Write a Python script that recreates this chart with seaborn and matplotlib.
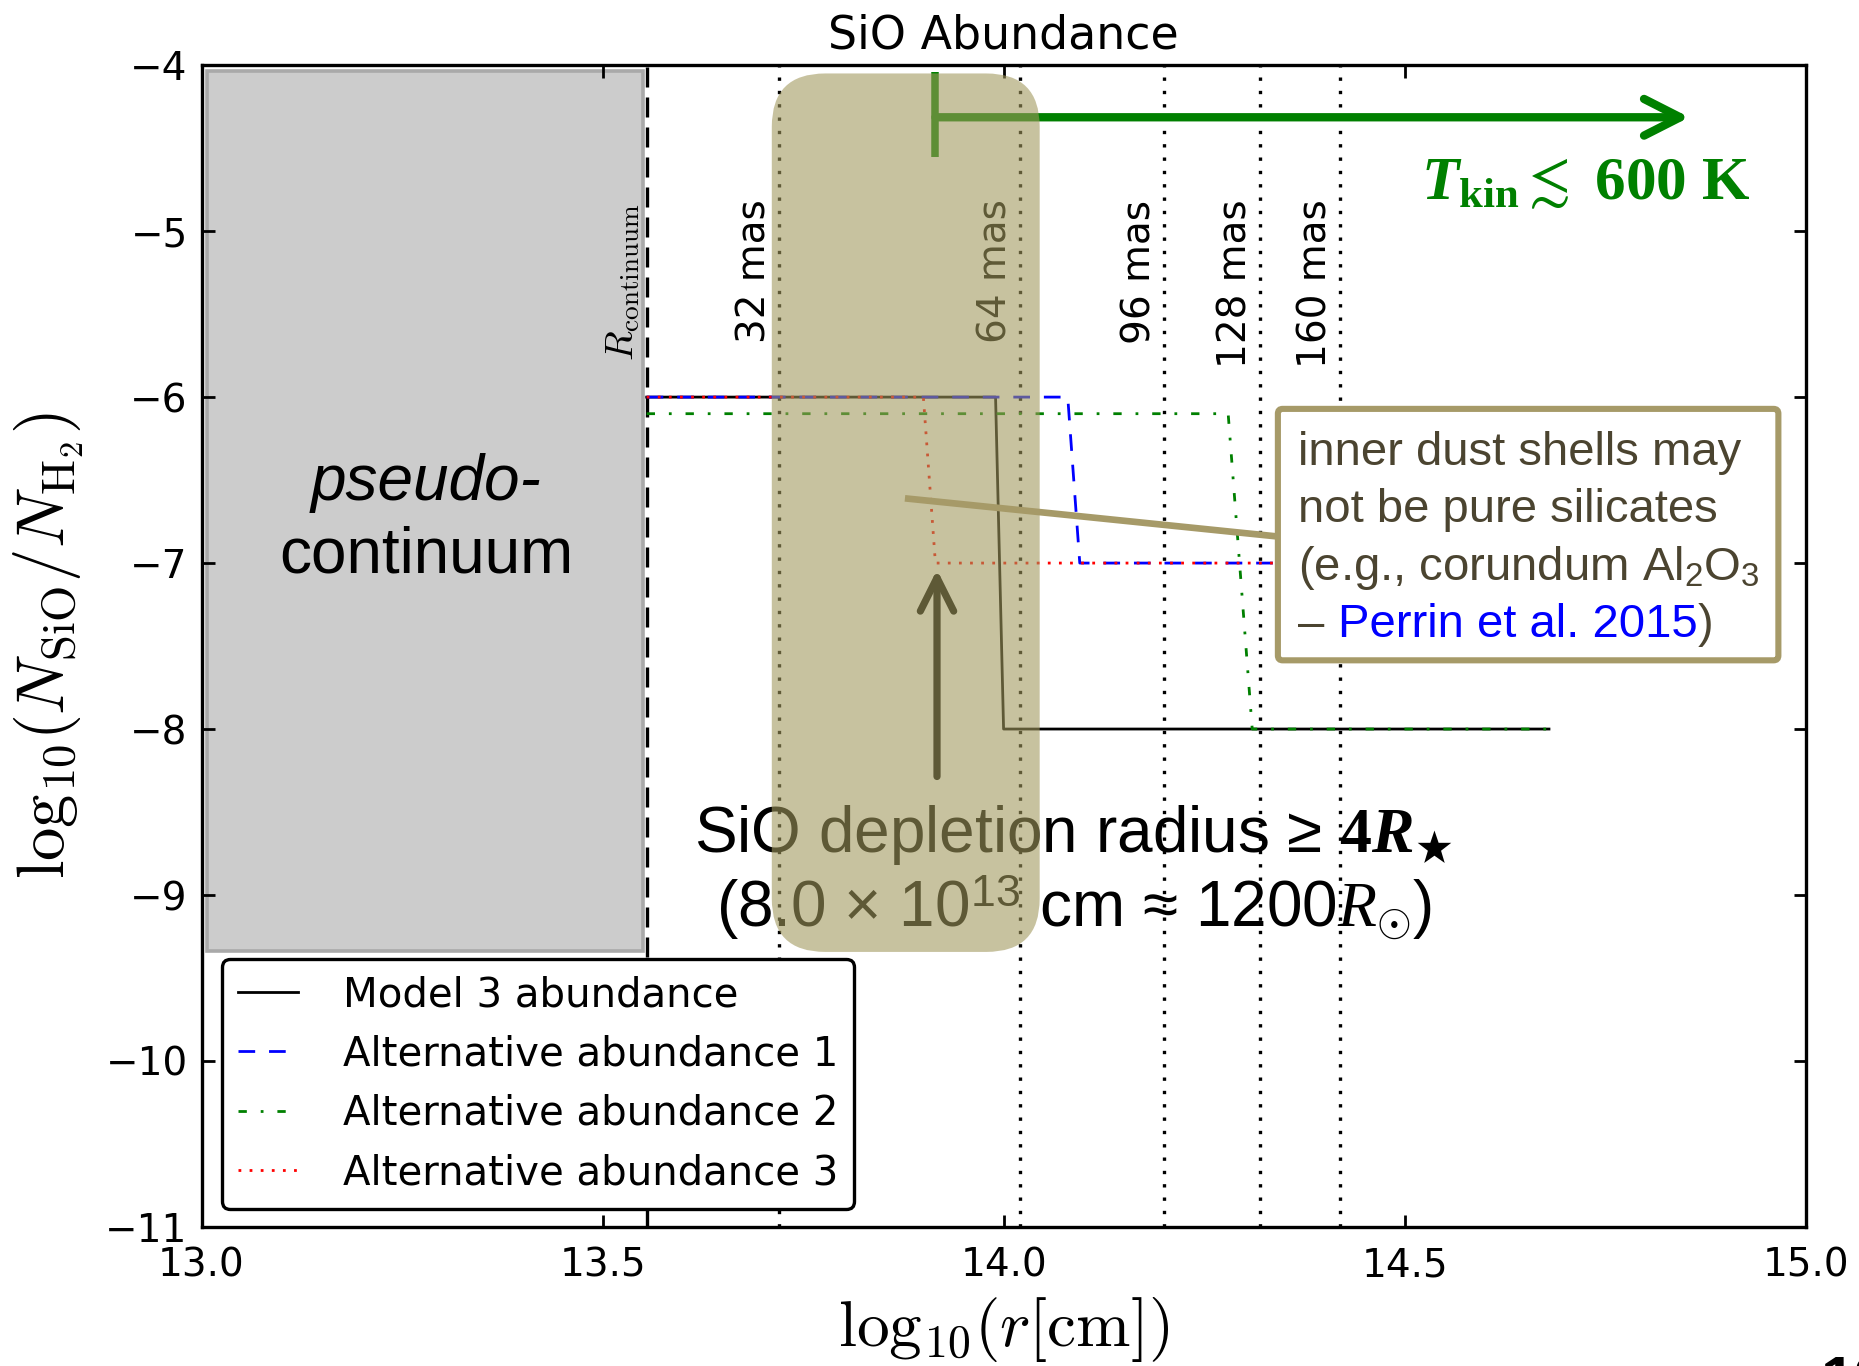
import matplotlib
matplotlib.use("Agg")
import matplotlib.pyplot as plt
from matplotlib.patches import FancyBboxPatch, Rectangle
import seaborn as sns

# ---- abundance profiles: log10(r [cm]) vs log10(N_SiO / N_H2) ----
model3_x = [13.555, 13.99, 14.00, 14.68]
model3_y = [-6.0, -6.0, -8.0, -8.0]
alt1_x = [13.555, 14.08, 14.095, 14.68]
alt1_y = [-6.0, -6.0, -7.0, -7.0]
alt2_x = [13.555, 14.28, 14.31, 14.68]
alt2_y = [-6.1, -6.1, -8.0, -8.0]
alt3_x = [13.555, 13.90, 13.915, 14.68]
alt3_y = [-6.0, -6.0, -7.0, -7.0]
series_labels = ["Model 3 abundance", "Alternative abundance 1",
                 "Alternative abundance 2", "Alternative abundance 3"]

# reference radii
r_continuum = 13.555
mas_labels = ["32 mas", "64 mas", "96 mas", "128 mas", "160 mas"]
mas_positions = [13.72, 14.02, 14.20, 14.32, 14.42]
depletion_radius = 13.915

x_ticks = [13.0, 13.5, 14.0, 14.5, 15.0]
y_ticks = [-4, -5, -6, -7, -8, -9, -10, -11]

TAN = "#a69a68"
OVERLAY = (161 / 255, 152 / 255, 93 / 255)
NOTE_TEXT = "#4b4430"
ASPECT = 4.83  # y-to-x data-unit ratio of the axes box in pixels

plt.rcParams.update({
    "mathtext.fontset": "cm",
    "mathtext.rm": "Liberation Sans",
    "mathtext.it": "Liberation Serif:italic",
    "mathtext.bf": "Liberation Serif:bold",
    "mathtext.bfit": "Liberation Serif:bold:italic",
    "axes.linewidth": 1.2,
    "xtick.direction": "in",
    "ytick.direction": "in",
    "xtick.top": True,
    "ytick.right": True,
    "xtick.major.size": 4.5,
    "ytick.major.size": 4.5,
    "xtick.major.width": 1.0,
    "ytick.major.width": 1.0,
    "xtick.labelsize": 14,
    "ytick.labelsize": 14,
    "xtick.major.pad": 7,
    "ytick.major.pad": 5,
})

fig = plt.figure(figsize=(18.59 / 2, 13.66 / 2), dpi=200)
ax = fig.add_axes([0.1084, 0.1018, 0.8629, 0.8505])

# pseudo-continuum region
ax.add_patch(Rectangle((13.007, -9.34), r_continuum - 0.004 - 13.007, 5.304,
                       facecolor="#cccccc", edgecolor="#a9a9a9", lw=1.3, zorder=1))
ax.text(13.28, -6.62, "pseudo-", style="italic", ha="center", va="baseline",
        fontsize=23, family="Liberation Sans", zorder=3)
ax.text(13.28, -7.057, "continuum", ha="center", va="baseline",
        fontsize=23, family="Liberation Sans", zorder=3)

# continuum radius and angular-distance markers
ax.axvline(r_continuum, color="k", lw=1.2, linestyle=(0, (6, 3)), zorder=1.5)
ax.text(r_continuum - 0.006, -4.83, r"$R_{\rm continuum}$", rotation=90,
        ha="right", va="top", fontsize=14, zorder=3)
for xpos, lab in zip(mas_positions, mas_labels):
    ax.axvline(xpos, color="k", lw=1.2, linestyle=(0, (1, 3)), zorder=1.5)
    ax.text(xpos - 0.007, -4.81, lab, rotation=90, ha="right", va="top",
            fontsize=14, zorder=3)

# abundance profiles
profiles = [
    (model3_x, model3_y, "k", "-"),
    (alt1_x, alt1_y, "b", (0, (6, 5))),
    (alt2_x, alt2_y, "g", (0, (3, 5, 1, 5))),
    (alt3_x, alt3_y, "r", (0, (1, 3))),
]
for (xs, ys, col, ls), lab in zip(profiles, series_labels):
    sns.lineplot(x=xs, y=ys, ax=ax, color=col, linestyle=ls, linewidth=1.0,
                 label=lab, sort=False, estimator=None, zorder=2)

# kinetic temperature range
ax.plot([depletion_radius, depletion_radius], [-4.04, -4.555],
        color="green", lw=2.7, solid_capstyle="butt", zorder=3)
ax.annotate("", xy=(14.855, -4.314), xytext=(depletion_radius, -4.314),
            arrowprops=dict(arrowstyle="->,head_length=0.65,head_width=0.33",
                            lw=3, color="green", mutation_scale=20,
                            shrinkA=0, shrinkB=0), zorder=3)
ax.text(14.52, -4.81, r"$\boldsymbol{T}_{\mathbf{kin}}\lesssim$ 600 K",
        color="green", fontsize=22, family="Liberation Serif", weight="bold",
        math_fontfamily="custom", ha="left", va="baseline", zorder=3)

# depletion radius
ax.annotate("", xy=(depletion_radius + 0.002, -7.04),
            xytext=(depletion_radius + 0.002, -8.286),
            arrowprops=dict(arrowstyle="->,head_length=0.6,head_width=0.3",
                            lw=2.6, color="k", mutation_scale=20,
                            shrinkA=0, shrinkB=0), zorder=3)
ax.text(14.087, -8.743,
        "SiO depletion radius \u2265 " + r"$\mathbf{4}\boldsymbol{R}_{\bigstar}$",
        ha="center", va="baseline", fontsize=23, family="Liberation Sans",
        math_fontfamily="custom", zorder=3)
ax.text(14.087, -9.193,
        "(8.0 \u00d7 10$^{13}$ cm \u2248 1200$R_{\\odot}$)",
        ha="center", va="baseline", fontsize=23, family="Liberation Sans",
        math_fontfamily="custom", zorder=3)

# shaded band over the depletion zone
ax.add_patch(FancyBboxPatch((13.711, -9.343), 0.334, 5.293,
                            boxstyle="round,pad=0,rounding_size=0.0665",
                            mutation_aspect=ASPECT, facecolor=OVERLAY,
                            edgecolor="none", alpha=0.59, zorder=4))

# note on dust composition
ax.plot([13.877, 14.342], [-6.61, -6.84], color=TAN, lw=2.4,
        solid_capstyle="butt", zorder=5)
ax.add_patch(FancyBboxPatch((14.342, -7.586), 0.624, 1.515,
                            boxstyle="round,pad=0,rounding_size=0.006",
                            mutation_aspect=ASPECT, facecolor="white",
                            edgecolor=TAN, lw=2.2, zorder=6))
note_kw = dict(fontsize=17, family="Liberation Sans", color=NOTE_TEXT,
               ha="left", va="baseline", zorder=7, math_fontfamily="custom")
ax.text(14.367, -6.41, "inner dust shells may", **note_kw)
ax.text(14.367, -6.755, "not be pure silicates", **note_kw)
ax.text(14.367, -7.10, r"(e.g., corundum Al$_{2}$O$_{3}$", **note_kw)
t_dash = ax.text(14.367, -7.445, "\u2013", **note_kw)
t_ref = ax.annotate("Perrin et al. 2015", xy=(1, 0), xycoords=t_dash,
                    xytext=(5, 0), textcoords="offset points",
                    fontsize=17, family="Liberation Sans", color="blue",
                    ha="left", va="bottom", zorder=7)
ax.annotate(")", xy=(1, 0), xycoords=t_ref, fontsize=17,
            family="Liberation Sans", color=NOTE_TEXT,
            ha="left", va="bottom", zorder=7)

# axes
ax.set_xlim(13.0, 15.0)
ax.set_ylim(-11, -4)
ax.set_xticks(x_ticks)
ax.set_xticklabels([f"{t:.1f}" for t in x_ticks])
ax.set_yticks(y_ticks)
ax.set_yticklabels([f"\u2212{abs(t)}" for t in y_ticks])
ax.set_title("SiO Abundance", fontsize=16.5, pad=6)
ax.set_xlabel(r"$\mathrm{log}_{10}(r[{\rm cm}])$", fontsize=23.5, labelpad=4)
ax.set_ylabel(r"$\mathrm{log}_{10}(N_{\rm SiO}/N_{\rm H_2})$", fontsize=24,
              labelpad=7)

leg = ax.legend(loc="lower left", bbox_to_anchor=(0.0126, 0.0153),
                borderaxespad=0, fontsize=14.5, handlelength=1.5,
                handletextpad=1.1, labelspacing=0.48, borderpad=0.4,
                fancybox=True, framealpha=1, edgecolor="k")
leg.get_frame().set_linewidth(1.2)
leg.set_zorder(8)

fig.text(1820 / 1859, 1 - 1355 / 1366, "19", fontsize=22, weight="bold",
         family="Liberation Sans", ha="left", va="top")

fig.savefig("out.png", dpi=200)
